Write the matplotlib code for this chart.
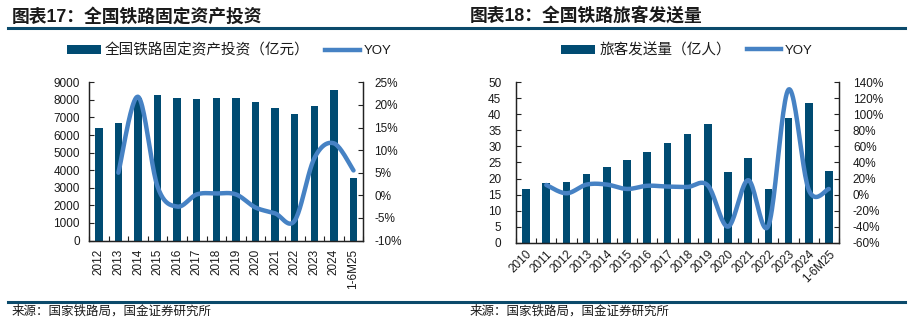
import numpy as np
import matplotlib
matplotlib.use("Agg")
import matplotlib.pyplot as plt
from matplotlib.patches import Patch
from matplotlib.lines import Line2D
from matplotlib.ticker import FixedLocator, FuncFormatter

plt.rcParams['font.family'] = ['Liberation Sans', 'Noto Sans CJK SC', 'DejaVu Sans']
plt.rcParams['axes.unicode_minus'] = False

# ---------------- data ----------------
cats1 = ['2012', '2013', '2014', '2015', '2016', '2017', '2018', '2019', '2020',
         '2021', '2022', '2023', '2024', '1-6M25']
invest = [6400, 6700, 8100, 8300, 8100, 8050, 8100, 8100, 7880, 7530, 7180, 7680, 8550, 3550]
yoy1 = [np.nan, 5.0, 21.8, 1.9, -2.5, 0.2, 0.4, 0.2, -2.7, -4.0, -5.6, 8.2, 11.5, 5.5]

cats2 = ['2010', '2011', '2012', '2013', '2014', '2015', '2016', '2017', '2018', '2019',
         '2020', '2021', '2022', '2023', '2024', '1-6M25']
passengers = [16.7, 18.6, 18.9, 21.4, 23.7, 25.7, 28.2, 31.0, 33.8, 36.9, 22.0, 26.4, 16.6, 38.8, 43.5, 22.5]
yoy2 = [np.nan, 12.0, 1.6, 12.5, 12.5, 7.0, 11.0, 10.0, 9.5, 11.5, -40.0, 18.0, -39.0, 131.0, 6.0, 7.0]

title1 = '图表17：全国铁路固定资产投资'
title2 = '图表18：全国铁路旅客发送量'
legend1 = '全国铁路固定资产投资（亿元）'
legend2 = '旅客发送量（亿人）'
source = '来源：国家铁路局，国金证券研究所'

BAR = '#004B72'
LINE = '#4682C4'
DARK = '#0B4A6B'
TXT = '#1A1A1A'


def smooth(x, y, n=24):
    x = np.asarray(x, float)
    y = np.asarray(y, float)
    m = ~np.isnan(y)
    x, y = x[m], y[m]
    P = np.column_stack([x, y])
    out = []
    t = np.linspace(0, 1, n)
    for i in range(len(P) - 1):
        p0 = P[i - 1] if i > 0 else P[i]
        p1 = P[i]
        p2 = P[i + 1]
        p3 = P[i + 2] if i + 2 < len(P) else P[i + 1]
        b0 = p1
        b1 = p1 + (p2 - p0) / 6
        b2 = p2 - (p3 - p1) / 6
        b3 = p2
        seg = ((1 - t) ** 3)[:, None] * b0 + (3 * (1 - t) ** 2 * t)[:, None] * b1 \
            + (3 * (1 - t) * t ** 2)[:, None] * b2 + (t ** 3)[:, None] * b3
        out.append(seg if i == 0 else seg[1:])
    s = np.vstack(out)
    return s[:, 0], s[:, 1]


fig = plt.figure(figsize=(9.16, 3.34), dpi=100)


def panel(rect, cats, bars, yoy, ylim, yticks, y2lim, y2ticks, rot, lpad, rpad):
    ax = fig.add_axes(rect)
    x = np.arange(len(cats))
    ax.bar(x, bars, width=0.38, color=BAR, zorder=2)
    ax.set_xlim(-0.5, len(cats) - 0.5)
    ax.set_ylim(*ylim)
    ax.set_yticks(yticks)
    ax.set_xticks(x)
    if rot == 90:
        ax.set_xticklabels(cats, rotation=90, ha='center', va='top')
    else:
        ax.set_xticklabels(cats, rotation=45, ha='right', va='top', rotation_mode='anchor')
    ax.xaxis.set_minor_locator(FixedLocator(np.arange(len(cats) + 1) - 0.5))
    ax.tick_params(axis='x', which='major', length=0, pad=6 if rot == 90 else 4,
                   labelsize=8.5, colors=TXT)
    ax.tick_params(axis='x', which='minor', direction='in', length=3.5, width=0.8, color='#222222')
    ax.tick_params(axis='y', direction='in', length=3.5, width=0.8, color='#222222',
                   labelsize=8.5, labelcolor=TXT, pad=lpad)
    ax.spines['top'].set_visible(False)
    for s in ['left', 'right', 'bottom']:
        ax.spines[s].set_linewidth(0.9)
        ax.spines[s].set_color('#222222')

    ax2 = ax.twinx()
    sx, sy = smooth(x, yoy)
    ax2.plot(sx, sy, color=LINE, lw=3.2, solid_capstyle='round', zorder=3)
    ax2.set_ylim(*y2lim)
    ax2.set_yticks(y2ticks)
    ax2.yaxis.set_major_formatter(FuncFormatter(lambda v, p: f'{v:.0f}%'))
    ax2.tick_params(axis='y', direction='in', length=3.5, width=0.8, color='#222222',
                    labelsize=8.5, labelcolor=TXT, pad=rpad)
    ax2.spines['top'].set_visible(False)
    for s in ['left', 'right', 'bottom']:
        ax2.spines[s].set_linewidth(0.9)
        ax2.spines[s].set_color('#222222')
    return ax, ax2


panel([89 / 916, 1 - 240.5 / 334, 274.3 / 916, 158.2 / 334], cats1, invest, yoy1,
      (0, 9000), np.arange(0, 9001, 1000), (-10, 25), np.arange(-10, 26, 5), 90, 6.5, 8)
panel([516 / 916, 1 - 242.7 / 334, 323 / 916, 160.4 / 334], cats2, passengers, yoy2,
      (0, 50), np.arange(0, 51, 5), (-60, 140), np.arange(-60, 141, 20), 45, 10.5, 10)

# legends
for cx, lab in [((73 + 385) / 2 / 916, legend1), ((564 + 810) / 2 / 916, legend2)]:
    h = [Patch(facecolor=BAR, edgecolor='none'), Line2D([], [], color=LINE, lw=3.2)]
    leg = fig.legend(h, [lab, 'YOY'], loc='center', bbox_to_anchor=(cx, 1 - 50 / 334), ncol=2,
                     frameon=False, fontsize=9.5, handlelength=2.6, handleheight=0.7,
                     handletextpad=0.3, columnspacing=1.2, labelcolor=TXT)
    leg.get_texts()[0].set_fontsize(10.5)

# titles and rules
fig.text(12 / 916, 1 - 16.5 / 334, title1, fontsize=12.8, fontweight='bold', va='center', ha='left', color=TXT)
fig.text(470 / 916, 1 - 16.5 / 334, title2, fontsize=12.8, fontweight='bold', va='center', ha='left', color=TXT)
fig.add_artist(Line2D([8 / 916, 905 / 916], [1 - 27.7 / 334] * 2, color=DARK, lw=2.2))
fig.add_artist(Line2D([8 / 916, 905 / 916], [1 - 302.3 / 334] * 2, color=DARK, lw=2.2))
fig.text(12 / 916, 1 - 311.5 / 334, source, fontsize=9, va='center', ha='left', color=TXT)
fig.text(470 / 916, 1 - 311.5 / 334, source, fontsize=9, va='center', ha='left', color=TXT)

fig.savefig('out.png', dpi=100)
